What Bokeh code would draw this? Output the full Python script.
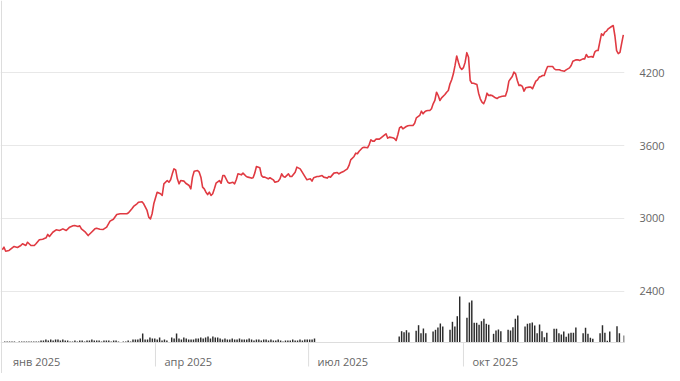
from bokeh.plotting import figure
from bokeh.models import Range1d, FixedTicker, Span
from bokeh.embed import file_html
from bokeh.resources import INLINE
from bokeh.core.properties import value

# ---- data -------------------------------------------------------------
# price: day offset from 2025-01-01, close
price_day = [-1, 0, 1, 3, 6, 8, 10, 11, 13, 14,
             16, 18, 19, 21, 23, 25, 26, 27, 29, 31,
             33, 35, 37, 39, 41, 42, 44, 45, 46, 48,
             50, 52, 54, 55, 57, 59, 61, 63, 65, 67,
             69, 71, 73, 74, 76, 77, 79, 80, 82, 83,
             85, 86, 87, 88, 89, 91, 93, 94, 95, 97,
             98, 99, 100, 101, 102, 103, 104, 105, 107, 108,
             110, 111, 112, 113, 115, 116, 117, 118, 119, 120,
             121, 122, 123, 124, 125, 126, 128, 129, 130, 131,
             133, 134, 136, 137, 138, 139, 141, 142, 144, 145,
             147, 148, 149, 150, 152, 153, 154, 155, 157, 158,
             160, 161, 163, 164, 165, 166, 167, 169, 170, 171,
             173, 174, 176, 177, 179, 180, 182, 183, 184, 186,
             187, 189, 190, 192, 193, 194, 196, 198, 199, 200,
             202, 204, 205, 206, 208, 209, 210, 211, 213, 214,
             216, 217, 218, 219, 220, 221, 223, 224, 226, 227,
             228, 229, 231, 232, 233, 234, 235, 236, 237, 239,
             240, 241, 243, 244, 245, 247, 248, 249, 250, 251,
             252, 253, 254, 255, 256, 257, 258, 259, 260, 262,
             263, 264, 265, 266, 267, 268, 269, 270, 271, 272,
             273, 274, 275, 276, 277, 278, 279, 281, 282, 283,
             284, 285, 286, 287, 288, 289, 290, 292, 293, 294,
             296, 298, 299, 300, 301, 302, 303, 304, 305, 306,
             307, 308, 309, 310, 312, 313, 314, 316, 317, 318,
             319, 320, 321, 322, 323, 324, 326, 327, 328, 330,
             331, 333, 334, 336, 337, 338, 340, 341, 342, 344,
             345, 346, 347, 349, 350, 351, 352, 353, 354, 355,
             356, 357, 358, 359, 361, 362, 363, 364, 365, 366,
             367, 368]
price_close = [2743, 2764, 2731, 2737, 2770, 2762, 2778, 2792, 2778, 2805,
               2778, 2778, 2792, 2825, 2830, 2841, 2869, 2852, 2887, 2907,
               2901, 2915, 2901, 2929, 2940, 2942, 2934, 2940, 2915, 2893,
               2860, 2887, 2915, 2920, 2912, 2910, 2929, 2978, 2994, 3033,
               3039, 3039, 3039, 3047, 3080, 3099, 3121, 3134, 3138, 3121,
               3066, 3011, 2996, 3039, 3121, 3216, 3203, 3189, 3285, 3312,
               3298, 3318, 3367, 3408, 3400, 3326, 3285, 3312, 3307, 3290,
               3271, 3244, 3340, 3389, 3395, 3381, 3340, 3258, 3244, 3216,
               3197, 3216, 3189, 3203, 3244, 3290, 3312, 3290, 3353, 3353,
               3298, 3290, 3298, 3285, 3318, 3367, 3359, 3373, 3345, 3340,
               3332, 3335, 3373, 3427, 3417, 3353, 3340, 3340, 3326, 3335,
               3318, 3298, 3307, 3326, 3367, 3345, 3340, 3367, 3345, 3345,
               3381, 3422, 3408, 3385, 3340, 3318, 3326, 3307, 3335, 3345,
               3345, 3353, 3340, 3332, 3345, 3340, 3373, 3378, 3367, 3376,
               3389, 3408, 3436, 3482, 3510, 3537, 3532, 3553, 3581, 3586,
               3581, 3608, 3647, 3636, 3636, 3652, 3652, 3663, 3685, 3696,
               3660, 3669, 3663, 3658, 3641, 3688, 3745, 3756, 3737, 3756,
               3762, 3764, 3764, 3783, 3827, 3847, 3882, 3860, 3878, 3885,
               3888, 3888, 3902, 3943, 3970, 4038, 4011, 3970, 3992, 4019,
               4038, 4052, 4107, 4140, 4189, 4258, 4336, 4285, 4241, 4226,
               4240, 4285, 4363, 4326, 4134, 4112, 4112, 4101, 4030, 3984,
               3956, 3943, 3976, 4030, 4011, 4014, 4011, 3992, 3986, 3997,
               4005, 4008, 4052, 4129, 4148, 4167, 4203, 4189, 4134, 4093,
               4096, 4085, 4047, 4074, 4080, 4080, 4066, 4129, 4140, 4162,
               4167, 4175, 4175, 4216, 4249, 4249, 4249, 4230, 4222, 4222,
               4216, 4211, 4222, 4238, 4258, 4293, 4304, 4304, 4299, 4312,
               4312, 4348, 4326, 4332, 4326, 4367, 4381, 4381, 4449, 4518,
               4504, 4532, 4540, 4559, 4578, 4586, 4500, 4380, 4355, 4365,
               4440, 4510]

# volume (session index, first block starts at index -163, second at 0)
vol_first = [0.1, 0.1, 0.1, 0.1, 0.1, 0.0, 0.1, 0.1, 0.1, 0.1, 0.1, 0.1, 0.1, 0.1, 0.1,
             0.2, 0.2, 0.3, 0.2, 0.3, 0.2, 0.3, 0.3, 0.2, 0.3, 0.2, 0.2,
             0.1, 0.1, 0.2, 0.1, 0.2, 0.2, 0.1, 0.2, 0.2, 0.3, 0.2, 0.2, 0.2, 0.1, 0.2, 0.2,
             0.2, 0.1, 0.2, 0.2, 0.1, 0.0, 0.1,
             0.1, 0.2, 0.1, 0.3, 0.3, 0.3, 0.4, 0.9, 0.3, 0.3, 0.5, 0.4, 0.4, 0.3, 0.5, 0.2,
             0.3, 0.2, 0.0, 0.5,
             0.4, 0.9, 0.4, 0.3, 0.5, 0.4, 0.3, 0.3, 0.3, 0.4, 0.4, 0.5, 0.4, 0.5, 0.6, 0.4,
             0.6, 0.5, 0.5, 0.4, 0.3, 0.4, 0.3,
             0.3, 0.4, 0.3, 0.3, 0.4, 0.3, 0.3, 0.3, 0.4, 0.3, 0.2, 0.3, 0.3, 0.2, 0.3, 0.3,
             0.2, 0.3, 0.2, 0.2, 0.3, 0.2, 0.1, 0.2, 0.2, 0.2, 0.3, 0.2, 0.2, 0.3, 0.2, 0.3,
             0.3, 0.3, 0.3, 0.4]
vol_second = [0.6, 1.13, 1.03, 1.23, 1.0, 0, 0, 1.17, 1.73, 0.93,
              1.4, 0.93, 0, 0, 1.1, 1.27, 1.5, 1.9, 1.6, 0,
              0, 1.27, 2.07, 1.6, 2.63, 4.6, 0, 0, 2.47, 4.0,
              4.2, 1.97, 1.97, 1.77, 2.13, 2.37, 1.87, 1.77, 0, 0.87,
              1.2, 1.3, 1.13, 0, 0, 1.27, 1.2, 1.53, 2.37, 2.7,
              0, 0, 1.6, 1.87, 1.93, 2.0, 1.7, 0.93, 1.8, 1.13,
              0.53, 0.97, 0, 0, 1.37, 1.37, 0.93, 0.8, 1.1, 0.57,
              0.9, 0.97, 0.97, 1.5, 0, 0, 0.93, 1.47, 0.87, 0.47,
              0.37, 0, 0, 0.93, 1.73, 0.97, 0.17, 1.1, 0, 0,
              1.63, 0.93, 0, 0.7]
vol_first_start = -163

month_day = [0, 90, 181, 273]
month_label = ["янв 2025", "апр 2025", "июл 2025", "окт 2025"]
price_ticks = [2400, 3000, 3600, 4200]

# ---- layout ------------------------------------------------------------
PX_DAY = 1.683
FRAME_W, FRAME_H = 624, 373
x0 = -3.5 / PX_DAY
SLOT_PX = 2.42
s0 = -398.7 / SLOT_PX

p = figure(frame_width=FRAME_W, frame_height=FRAME_H,
           x_range=Range1d(x0, x0 + FRAME_W / PX_DAY),
           y_range=Range1d(1726.0, 4791.8),
           output_backend="svg", toolbar_location=None,
           x_axis_location=None, y_axis_location="right",
           min_border_left=0, min_border_top=0, min_border_bottom=0,
           min_border_right=56, outline_line_color=None)
p.extra_y_ranges = {"vol": Range1d(-3.1, 34.2)}
p.extra_x_ranges = {"slot": Range1d(s0, s0 + FRAME_W / SLOT_PX)}

p.xgrid.visible = False
p.ygrid.ticker = FixedTicker(ticks=price_ticks)
p.ygrid.grid_line_color = "#e8e8e8"

ax = p.yaxis[0]
ax.ticker = FixedTicker(ticks=price_ticks)
ax.axis_line_color = None
ax.major_tick_line_color = None
ax.minor_tick_line_color = None
ax.major_tick_out = 0
ax.major_label_standoff = 15
ax.major_label_text_font = "Open Sans"
ax.major_label_text_font_size = "11px"
ax.major_label_text_color = "#666666"

# left border
p.add_layout(Span(location=x0 + 1.0 / PX_DAY, dimension="height",
                  line_color="#dddddd", line_width=1))
# volume baseline
p.add_layout(Span(location=0, dimension="width", y_range_name="vol",
                  line_color="#dddddd", line_width=1))

# month separators and labels
sep_days = month_day[1:]
p.segment(x0=sep_days, y0=[0] * len(sep_days), x1=sep_days, y1=[-2.4] * len(sep_days),
          y_range_name="vol", line_color="#dddddd", line_width=1)
p.text(x=month_day, y=[-1.9] * len(month_day), text=month_label,
       y_range_name="vol", x_offset=9, text_align="left", text_baseline="middle",
       text_font=value("Open Sans"), text_font_size="11px", text_color="#666666")

# volume bars
slots = list(range(vol_first_start, vol_first_start + len(vol_first))) + list(range(len(vol_second)))
vols = vol_first + vol_second
p.vbar(x=slots, top=vols, bottom=0, width=0.6, x_range_name="slot", y_range_name="vol",
       fill_color="#2b2b2b", line_color=None)

# price line
p.line(price_day, price_close, line_color="#e03a42", line_width=1.6, line_join="round")

open("out.html", "w").write(file_html(p, INLINE))
